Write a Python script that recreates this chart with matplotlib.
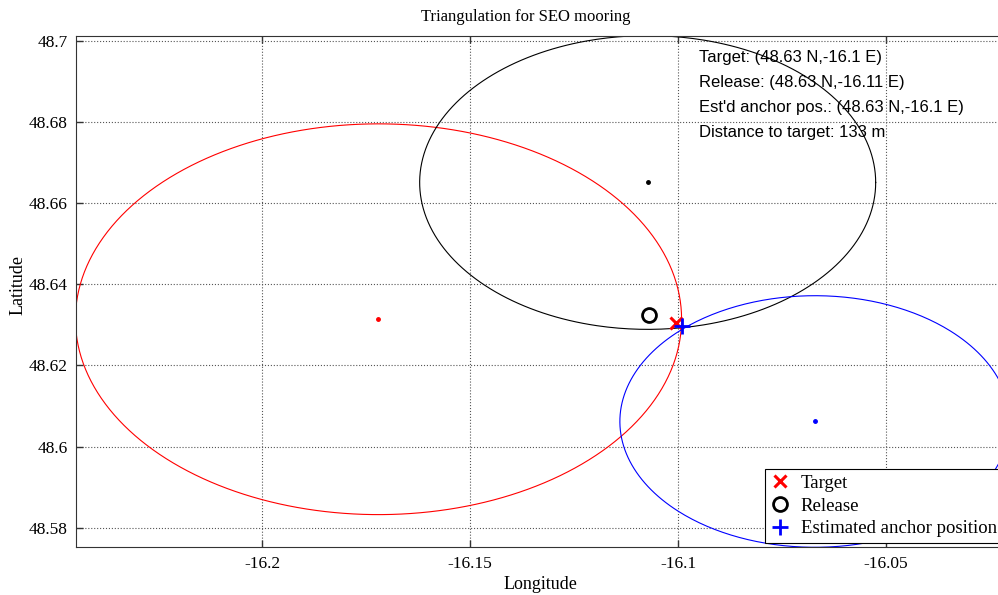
import numpy as np
import matplotlib
matplotlib.use("Agg")
import matplotlib.pyplot as plt

# Ranging circles from the three ship stations (lat, lon, slant range in m)
station_lat = [48.6314, 48.6651, 48.6062]
station_lon = [-16.1720, -16.1073, -16.0671]
station_range_m = [5354, 4025, 3447]
station_color = ["red", "black", "blue"]

target_lat, target_lon = 48.6305, -16.1005
release_lat, release_lon = 48.6324, -16.1069
anchor_lat, anchor_lon = 48.62974, -16.0991

xticks = [-16.2, -16.15, -16.1, -16.05]
yticks = [48.58, 48.60, 48.62, 48.64, 48.66, 48.68, 48.70]

M_PER_DEG = 111195.0


def circle(lat0, lon0, r_m, n=400):
    t = np.linspace(0, 2 * np.pi, n)
    dlat = r_m / M_PER_DEG
    dlon = r_m / (M_PER_DEG * np.cos(np.radians(lat0)))
    return lon0 + dlon * np.cos(t), lat0 + dlat * np.sin(t)


def fmt(v):
    return f"{round(v, 2):g}"


serif = "Liberation Serif"
sans = "Liberation Sans"

fig = plt.figure(figsize=(9.98, 5.95), dpi=100)
# axes run past the right edge of the figure
ax = fig.add_axes([0.0762, 0.0802, 0.9667, 0.8593])

for lat0, lon0, r, c in zip(station_lat, station_lon, station_range_m, station_color):
    x, y = circle(lat0, lon0, r)
    ax.plot(x, y, color=c, lw=0.8, zorder=2)
    ax.plot(lon0, lat0, ".", color=c, ms=5, zorder=3)

ax.plot(target_lon, target_lat, "x", color="red", ms=9, mew=2.2, zorder=5,
        label="Target")
ax.plot(release_lon, release_lat, "o", mfc="none", mec="black", ms=10, mew=2,
        zorder=5, label="Release")
ax.plot(anchor_lon, anchor_lat, "+", color="blue", ms=11, mew=2, zorder=6,
        label="Estimated anchor position")

ax.set_xticks(xticks)
ax.set_yticks(yticks)
ax.set_xticklabels([f"{v:g}" for v in xticks], fontfamily=serif, fontsize=12.5)
ax.set_yticklabels([f"{v:g}" for v in yticks], fontfamily=serif, fontsize=12.5)
ax.set_xlim(-16.2447, -16.0128)
ax.set_ylim(48.5752, 48.7012)
ax.tick_params(direction="in", length=5, width=1, top=True, right=True,
               colors="#333333", labelcolor="black", pad=6)
ax.grid(True, linestyle=":", color="#555555", lw=0.8)
for s in ax.spines.values():
    s.set_color("#333333")

fig.text(0.5416, 0.017, "Longitude", fontfamily=serif, fontsize=13,
         ha="center", va="center")
fig.text(0.018, 0.521, "Latitude", fontfamily=serif, fontsize=13,
         rotation=90, ha="center", va="center")
fig.text(0.4218, 0.972, "Triangulation for SEO mooring", fontfamily=serif,
         fontsize=12, ha="left", va="center")

# flat-earth distance between target and estimated anchor
dy = (anchor_lat - target_lat) * M_PER_DEG
dx = (anchor_lon - target_lon) * M_PER_DEG * np.cos(np.radians(target_lat))
dist = np.hypot(dx, dy)

info = [
    f"Target: ({fmt(target_lat)} N,{fmt(target_lon)} E)",
    f"Release: ({fmt(release_lat)} N,{fmt(release_lon)} E)",
    f"Est'd anchor pos.: ({fmt(anchor_lat)} N,{fmt(anchor_lon)} E)",
    f"Distance to target: {dist:.0f} m",
]
for i, line in enumerate(info):
    fig.text(0.700, 0.904 - i * 0.0422, line, fontfamily=sans, fontsize=12,
             ha="left", va="center")

leg = ax.legend(loc="lower left", bbox_to_anchor=(765 / 998, 52 / 595),
                bbox_transform=fig.transFigure, prop={"family": serif, "size": 13.5},
                frameon=True, fancybox=False, edgecolor="black", framealpha=1,
                handlelength=1.0, handletextpad=0.6, labelspacing=0.3,
                borderpad=0.3, borderaxespad=0)
leg.get_frame().set_linewidth(0.8)

fig.savefig("out.png", dpi=100)
